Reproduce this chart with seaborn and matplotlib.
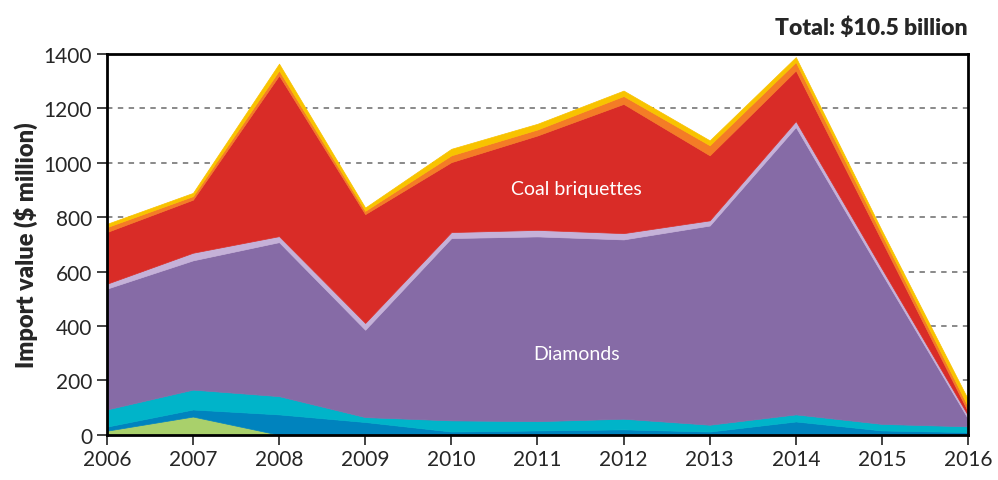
import pandas as pd
import matplotlib.pyplot as plt
import seaborn as sns

# import breakdown, $ million
years = [2006, 2007, 2008, 2009, 2010, 2011, 2012, 2013, 2014, 2015, 2016]
green = [15, 67, 0, 0, 0, 0, 0, 0, 0, 0, 0]
blue = [15, 26, 75, 47, 12, 16, 20, 12, 49, 16, 10]
cyan = [63, 73, 67, 18, 41, 34, 39, 25, 26, 24, 21]
diamonds = [444, 475, 566, 321, 670, 679, 659, 732, 1056, 552, 28]
lavender = [18, 28, 22, 25, 22, 24, 23, 19, 22, 18, 12]
coal_briquettes = [190, 195, 591, 400, 257, 347, 475, 239, 186, 102, 14]
orange = [18, 13, 18, 12, 25, 22, 29, 37, 31, 24, 18]
yellow = [12, 12, 25, 12, 24, 21, 20, 18, 18, 14, 27]

layer_colors = ['#a9d06b', '#0083be', '#00b4c9', '#866ba6',
                '#c5b1d8', '#d92c27', '#f47c26', '#f8c300']

df = pd.DataFrame({
    'year': years, 'green': green, 'blue': blue, 'cyan': cyan,
    'diamonds': diamonds, 'lavender': lavender,
    'coal': coal_briquettes, 'orange': orange, 'yellow': yellow,
})

sns.set_style('white')
plt.rcParams['font.family'] = ['Lato', 'DejaVu Sans']

fig = plt.figure(figsize=(9.98, 4.81), dpi=100)
ax = fig.add_axes([0.107, 0.094, 0.863, 0.792])

for y in range(200, 1400, 200):
    ax.axhline(y, color='#808080', linestyle=(0, (3, 3)), linewidth=1.3, zorder=0)

ax.stackplot(df['year'],
             [df[c] for c in ['green', 'blue', 'cyan', 'diamonds',
                              'lavender', 'coal', 'orange', 'yellow']],
             colors=layer_colors, linewidth=0.5, edgecolor='face',
             zorder=2)

ax.set_xlim(2006, 2016)
ax.set_ylim(0, 1400)
ax.set_xticks(years)
ax.set_yticks(range(0, 1401, 200))
ax.tick_params(axis='both', labelsize=15, direction='out', length=7,
               width=1.3, color='#333333', left=True, bottom=True)
ax.tick_params(axis='x', pad=3)
for side in ax.spines.values():
    side.set_color('black')
    side.set_linewidth(2)
    side.set_zorder(3)

ax.set_ylabel('Import value ($ million)', fontsize=17, fontweight='heavy',
              labelpad=4)

ax.text(2011.45, 905, 'Coal briquettes', color='white', fontsize=14,
        ha='center', va='center', zorder=4)
ax.text(2011.45, 300, 'Diamonds', color='white', fontsize=14,
        ha='center', va='center', zorder=4)

fig.text(0.970, 0.942, 'Total: $10.5 billion', fontsize=16.5,
         fontweight='heavy', ha='right', va='center')

fig.savefig('out.png', dpi=100)
